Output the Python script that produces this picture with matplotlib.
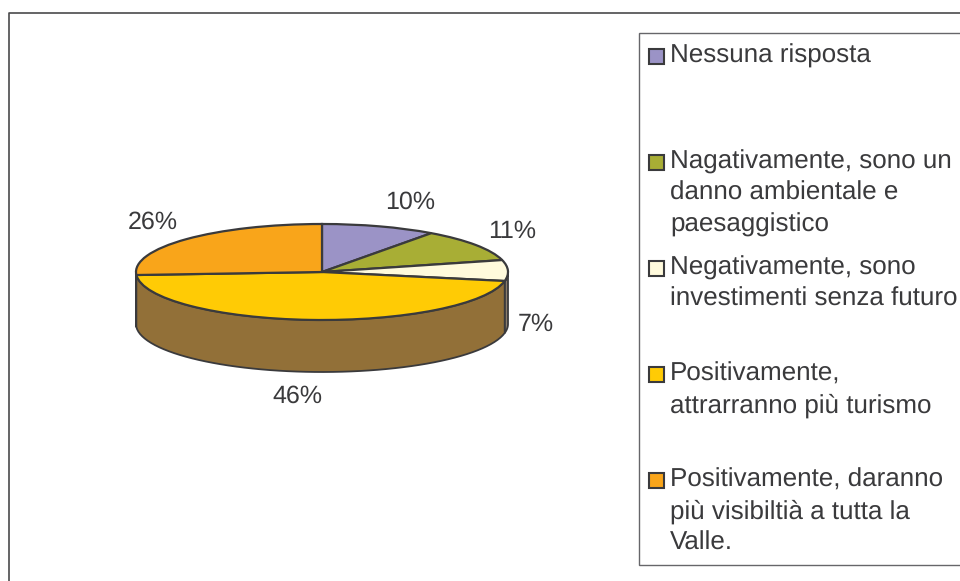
import numpy as np
import matplotlib
matplotlib.use('Agg')
import matplotlib.pyplot as plt
from matplotlib.patches import Polygon, Rectangle

plt.rcParams['font.family'] = ['Liberation Sans', 'DejaVu Sans']
plt.rcParams['text.hinting'] = 'no_hinting'
plt.rcParams['text.hinting_factor'] = 1

# Data
values = [10, 11, 7, 46, 26]
pct_labels = ['10%', '11%', '7%', '46%', '26%']
legend_names = [
    'Nessuna risposta',
    'Nagativamente, sono un\ndanno ambientale e\npaesaggistico',
    'Negativamente, sono\ninvestimenti senza futuro',
    'Positivamente,\nattrarranno più turismo',
    'Positivamente, daranno\npiù visibiltià a tutta la\nValle.',
]
colors = ['#9B93C6', '#A8AE35', '#FFFADC', '#FFCB05', '#F9A51A']
side_colors = ['#6F6A8F', '#797E2A', '#8C7D6B', '#927038', '#927038']

INK = '#3A3A3C'
W, H = 960, 581
CX, CY, RX, RY, DEPTH = 322, 272, 186, 48, 52

fig = plt.figure(figsize=(W / 100, H / 100), dpi=100)

# pixel layer for frame, labels and legend
bg = fig.add_axes([0, 0, 1, 1])
bg.set_xlim(0, W)
bg.set_ylim(H, 0)
bg.axis('off')

bg.plot([8.5, 8.5, W], [H, 12.5, 12.5], color='#4A4A4C', lw=1.2)
bg.add_patch(Rectangle((638.5, 32.5), 330, 532, fc='white', ec='#66666A', lw=1))

label_pos = [(410, 202), (512, 231), (536, 324), (297, 396), (153, 222)]
for (x, y), s in zip(label_pos, pct_labels):
    bg.text(x, y, s, fontsize=18.3, color=INK, ha='center', va='center')

legend_y = [56, 162, 268, 374, 480]
for y, name, c in zip(legend_y, legend_names, colors):
    bg.add_patch(Rectangle((648.5, y - 7.5), 15.5, 15.5, fc=c, ec=INK, lw=1.5))
    bg.text(670, y - 12, name, fontsize=18.7, color=INK, ha='left', va='top',
            linespacing=1.37)

# squashed pie: one data unit is RX px across and RY px down
xmin, xmax = -1.2, 1.2
ymin, ymax = -2.4, 1.2
ax = fig.add_axes([(CX + xmin * RX) / W, 1 - (CY - ymin * RY) / H,
                   (xmax - xmin) * RX / W, (ymax - ymin) * RY / H])
ax.patch.set_alpha(0)

# side wall
drop = DEPTH / RY
edges = np.cumsum([0] + values) / sum(values) * 360
order = [0, 1, 2, 4, 3]
for i in order:
    a1 = max(edges[i], 90)
    a2 = min(edges[i + 1], 270)
    if a2 <= a1:
        continue
    t = np.radians(np.linspace(a1, a2, 60))
    xs, ys = np.sin(t), np.cos(t)
    pts = np.r_[np.c_[xs, ys], np.c_[xs, ys - drop][::-1]]
    ax.add_patch(Polygon(pts, closed=True, fc=side_colors[i], ec=INK, lw=1.3,
                         joinstyle='round'))

ax.pie(values, colors=colors, startangle=90, counterclock=False, radius=1,
       wedgeprops={'edgecolor': INK, 'linewidth': 1.6})
ax.set_aspect('auto')
ax.set_xlim(xmin, xmax)
ax.set_ylim(ymin, ymax)
ax.axis('off')

fig.savefig('out.png', dpi=100)
